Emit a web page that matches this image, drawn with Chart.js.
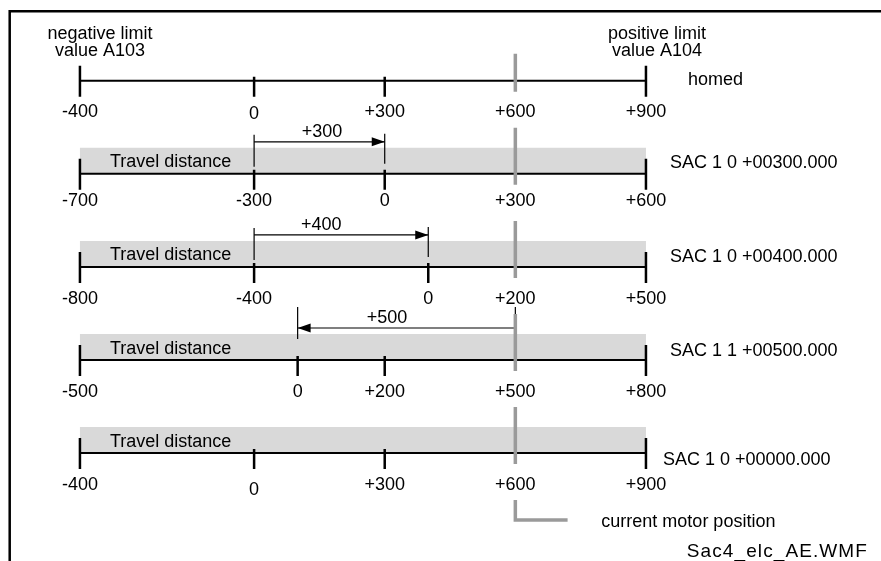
<!DOCTYPE html>
<html><head><meta charset="utf-8">
<script src="https://cdn.jsdelivr.net/npm/chart.js@4.4.1/dist/chart.umd.min.js"></script>
<style>html,body{margin:0;padding:0;background:#fff;overflow:hidden}canvas{display:block}</style>
</head><body><canvas id="c" width="881" height="561"></canvas>
<script>
// ---------------- data ----------------
const rowNames = ['homed', 'SAC 1 0 +00300.000', 'SAC 1 0 +00400.000', 'SAC 1 1 +00500.000', 'SAC 1 0 +00000.000'];
const rowTickValues = [
  [-400, 0, 300, 600, 900],
  [-700, -300, 0, 300, 600],
  [-800, -400, 0, 200, 500],
  [-500, 0, 200, 500, 800],
  [-400, 0, 300, 600, 900]
];
const rowShift = [0, -300, -400, -100, 0];          // row value = absolute position + shift
const travelRows = [false, true, true, true, true];  // rows showing the travel distance band
const moveStart = [null, 0, 0, 600, null];           // absolute start of the move
const moveDistance = [null, 300, 400, -500, null];   // signed move
const moveLabels = [null, '+300', '+400', '+500', null];
const moveLabelAt = [null, 156, 154, 305, null];     // absolute position of the move label
const limitNeg = -400, limitPos = 900, motorPos = 600;
const limitTexts = [['negative limit', 'value A103'], ['positive limit', 'value A104']];
const travelText = 'Travel distance';
const legendText = 'current motor position';
const fileText = 'Sac4_elc_AE.WMF';

// ---------------- layout (px) ----------------
const W = 881, H = 561;
const ROW_PX = 93.1, ROW0_PX = 80.7;
const PX_PER_UNIT = 0.4354, ZERO_PX = 254.1;
const FONT = '18px "Liberation Sans", Arial, sans-serif';
const GREY = '#9a9a9a', BAND = '#d9d9d9';
const tickLabelOff = [36, 32.3, 37, 37, 36.4];
const nameOff = [4.3, -5.5, -5, -4.5, 12];
const nameDx = [42, 24, 24, 24, 17];
const yv = (r, px) => r + px / ROW_PX;

// ---------------- datasets ----------------
const datasets = [];
function seg(pts, color, width, order) {
  datasets.push({ data: pts, borderColor: color, backgroundColor: color, borderWidth: width,
    showLine: true, pointRadius: 0, pointHoverRadius: 0, fill: false, tension: 0,
    borderCapStyle: 'butt', order });
}
rowNames.forEach((name, r) => {
  if (travelRows[r]) seg([{x: limitNeg, y: yv(r, -13)}, {x: limitPos, y: yv(r, -13)}], BAND, 26, 40);
  seg([{x: limitNeg, y: r}, {x: limitPos, y: r}], '#000', 2, 20);
  rowTickValues[r].forEach(v => {
    const a = v - rowShift[r];
    if (a === motorPos) return;
    const isEnd = (a === limitNeg || a === limitPos);
    seg([{x: a, y: yv(r, isEnd ? -15 : -4)}, {x: a, y: yv(r, 16)}], '#000', 2.5, 20);
  });
  // current motor position marker
  seg([{x: motorPos, y: yv(r, r === 0 ? -27 : -46)}, {x: motorPos, y: yv(r, 11)}], GREY, 3.5, 10);
  // move arrow
  if (moveStart[r] !== null) {
    const s = moveStart[r], e = moveStart[r] + moveDistance[r];
    seg([{x: s, y: yv(r, -32)}, {x: e, y: yv(r, -32)}], '#000', 1.2, 15);
    if (moveDistance[r] > 0) {
      seg([{x: s, y: yv(r, -39)}, {x: s, y: yv(r, -7)}], '#000', 1.2, 15);
      seg([{x: e, y: yv(r, -40)}, {x: e, y: yv(r, -10)}], '#000', 1.2, 15);
    } else {
      seg([{x: s, y: yv(r, -53)}, {x: s, y: yv(r, -32)}], '#000', 1.2, 15);
      seg([{x: e, y: yv(r, -53)}, {x: e, y: yv(r, -21)}], '#000', 1.2, 15);
    }
  }
});
// legend L for the current motor position
const lastRow = rowNames.length - 1;
seg([{x: motorPos, y: yv(lastRow, 47)}, {x: motorPos, y: yv(lastRow, 67)}, {x: motorPos + 120, y: yv(lastRow, 67)}], GREY, 3.5, 10);

// ---------------- drawing plugin ----------------
const annot = {
  id: 'annot',
  afterDatasetsDraw(chart) {
    const ctx = chart.ctx, X = v => chart.scales.x.getPixelForValue(v), Y = v => chart.scales.y.getPixelForValue(v);
    ctx.save();
    // frame
    ctx.strokeStyle = '#000'; ctx.lineWidth = 2.5;
    ctx.beginPath(); ctx.moveTo(W, 11.3); ctx.lineTo(9.7, 11.3); ctx.lineTo(9.7, H); ctx.stroke();
    ctx.fillStyle = '#000'; ctx.font = FONT; ctx.textBaseline = 'alphabetic';
    // arrowheads
    rowNames.forEach((n, r) => {
      if (moveStart[r] === null) return;
      const e = X(moveStart[r] + moveDistance[r]), y = Y(yv(r, -32)), s = Math.sign(moveDistance[r]);
      ctx.beginPath(); ctx.moveTo(e, y); ctx.lineTo(e - s * 13, y - 4.5); ctx.lineTo(e - s * 13, y + 4.5); ctx.closePath(); ctx.fill();
      ctx.textAlign = 'center';
      ctx.fillText(moveLabels[r], X(moveLabelAt[r]), Y(yv(r, -37)));
    });
    // tick labels
    rowNames.forEach((n, r) => {
      ctx.textAlign = 'center';
      rowTickValues[r].forEach(v => {
        const a = v - rowShift[r];
        const t = v > 0 ? '+' + v : String(v);
        const nudge = (v === 0 && (r === 0 || r === lastRow)) ? (r === 0 ? 2 : 5) : 0;
        ctx.fillText(t, X(a), Y(yv(r, tickLabelOff[r] + nudge)));
      });
      ctx.textAlign = 'left';
      ctx.fillText(n, X(limitPos) + nameDx[r], Y(yv(r, nameOff[r])));
      if (travelRows[r]) ctx.fillText(travelText, X(limitNeg) + 30, Y(yv(r, -6.5)));
    });
    // limit captions
    ctx.textAlign = 'center';
    ctx.fillText(limitTexts[0][0], X(limitNeg) + 20, Y(yv(0, -41.7)));
    ctx.fillText(limitTexts[0][1], X(limitNeg) + 20, Y(yv(0, -25.2)));
    ctx.fillText(limitTexts[1][0], X(limitPos) + 11, Y(yv(0, -41.7)));
    ctx.fillText(limitTexts[1][1], X(limitPos) + 11, Y(yv(0, -25.2)));
    // legend + file name
    ctx.textAlign = 'left';
    ctx.fillText(legendText, X(motorPos) + 86, Y(yv(lastRow, 73.6)));
    ctx.textAlign = 'right';
    ctx.font = '19px "Liberation Sans", Arial, sans-serif';
    try { ctx.letterSpacing = '1.1px'; } catch (e) {}
    ctx.fillText(fileText, 868, Y(yv(lastRow, 103.6)));
    try { ctx.letterSpacing = '0px'; } catch (e) {}
    ctx.restore();
  }
};

new Chart(document.getElementById('c'), {
  type: 'scatter',
  data: { datasets },
  options: {
    responsive: false, animation: false, devicePixelRatio: 1, events: [],
    layout: { padding: 0 },
    plugins: { legend: { display: false }, tooltip: { enabled: false } },
    scales: {
      x: { type: 'linear', display: false, min: -ZERO_PX / PX_PER_UNIT, max: (W - ZERO_PX) / PX_PER_UNIT },
      y: { type: 'linear', display: false, reverse: true, min: -ROW0_PX / ROW_PX, max: (H - ROW0_PX) / ROW_PX }
    }
  },
  plugins: [annot]
});
</script>
</body></html>
